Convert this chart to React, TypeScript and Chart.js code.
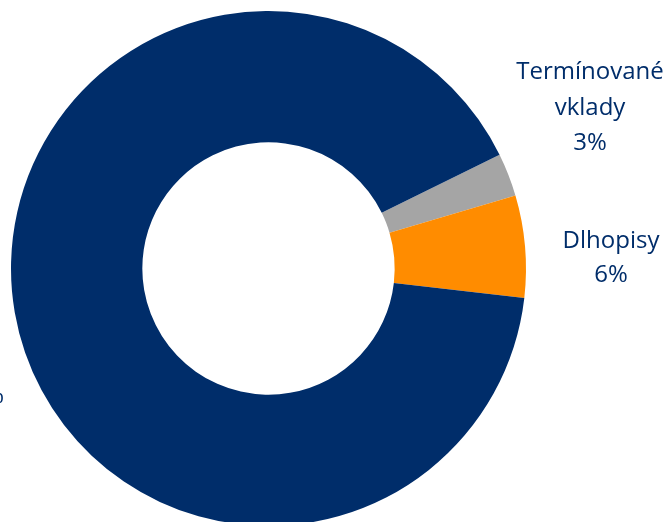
import React, { useEffect, useRef } from "react";
import { Chart, registerables } from "chart.js";

Chart.register(...registerables);

const categories = ["Termínované vklady", "Dlhopisy", "Akcie"];
const values = [2.7, 6.4, 90.9];
const valueLabels = ["3%", "6%", "91%"];
const colors = ["#A5A5A5", "#FF8C00", "#002D6A"];

const NAVY = "#002D6A";

const labelPlugin = {
  id: "manualLabels",
  afterDraw(chart: any) {
    const ctx = chart.ctx as CanvasRenderingContext2D;
    ctx.save();
    ctx.fillStyle = NAVY;
    ctx.font = "24px 'Open Sans'";
    ctx.textBaseline = "alphabetic";
    ctx.textAlign = "center";
    // Termínované vklady
    const t = categories[0].split(" ");
    ctx.fillText(t[0], 590, 79);
    ctx.fillText(t[1], 590, 115);
    ctx.fillText(valueLabels[0], 590, 150);
    // Dlhopisy
    ctx.fillText(categories[1], 611, 248);
    ctx.fillText(valueLabels[1], 611, 282);
    // left label (clipped)
    ctx.textAlign = "right";
    ctx.fillText(categories[2] + " " + valueLabels[2], 4, 403);
    ctx.restore();
  },
};

export default function App() {
  const ref = useRef<HTMLCanvasElement | null>(null);
  useEffect(() => {
    if (!ref.current) return;
    const chart = new Chart(ref.current, {
      type: "doughnut",
      data: {
        labels: categories,
        datasets: [
          {
            data: values,
            backgroundColor: colors,
            borderWidth: 0,
          },
        ],
      },
      options: {
        responsive: false,
        animation: false,
        rotation: 63.8,
        cutout: "49%",
        layout: { padding: { left: 11, top: 11, right: 143, bottom: 14 } },
        plugins: {
          legend: { display: false },
          tooltip: { enabled: false },
        },
      },
      plugins: [labelPlugin],
    });
    return () => chart.destroy();
  }, []);
  return (
    <div style={{ position: "absolute", left: 0, top: 0, width: 669, height: 540, overflow: "hidden" }}>
      <canvas ref={ref} width={669} height={540} style={{ width: 669, height: 540, display: "block" }} />
    </div>
  );
}
